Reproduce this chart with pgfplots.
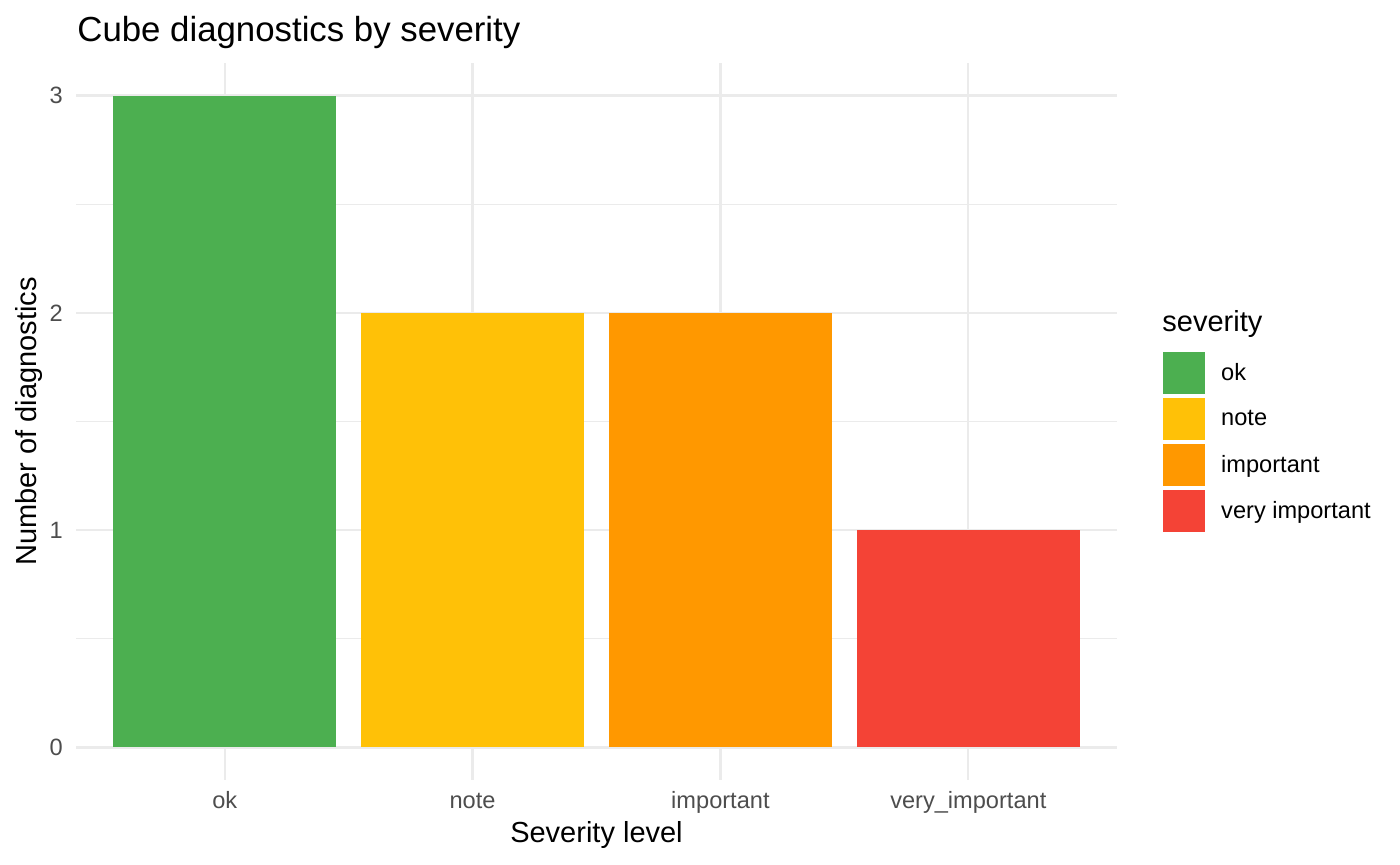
\documentclass[border=0pt]{standalone}
\usepackage{fontspec}
\setmainfont{Liberation Sans}
\usepackage{pgfplots}
\pgfplotsset{compat=1.18}
\definecolor{cok}{HTML}{4CAF50}
\definecolor{cnote}{HTML}{FFC107}
\definecolor{cimp}{HTML}{FF9800}
\definecolor{cvimp}{HTML}{F44336}
\definecolor{gridc}{HTML}{EBEBEB}
\definecolor{tickc}{HTML}{4D4D4D}
\begin{document}
\begin{tikzpicture}[x=1pt,y=1pt]
\path (0,0) rectangle (700,432.5);
\begin{axis}[
  at={(38pt,42.5pt)}, anchor=south west,
  scale only axis, width=520.5pt, height=358.5pt,
  xmin=-0.6, xmax=3.6, ymin=-0.15, ymax=3.15,
  axis line style={draw=none},
  xtick={0,1,2,3}, xticklabels={ok,note,important,very\_important},
  ytick={0,1,2,3}, minor ytick={0.5,1.5,2.5},
  major tick length=0pt, minor tick length=0pt,
  xmajorgrids, ymajorgrids, yminorgrids,
  major grid style={gridc, line width=1.1pt},
  minor grid style={gridc, line width=0.55pt},
  tick label style={font=\fontsize{11.8}{14}\selectfont, text=tickc},
  xticklabel style={anchor=base, yshift=-14.5pt},
  yticklabel style={anchor=east, xshift=-3.1pt},
  /pgf/number format/assume math mode=true,
  ybar, bar width=0.9, bar shift=0pt,
  legend style={at={(1.044,0.597)}, anchor=north west, draw=none, fill=none,
    inner sep=0pt, row sep=2pt, font=\fontsize{11.8}{14}\selectfont,
    nodes={inner sep=0pt, anchor=west},
    /tikz/every odd column/.append style={column sep=8pt}},
  legend cell align=left,
  legend image code/.code={\path[fill,draw=none] (0pt,-10.5pt) rectangle (21pt,10.5pt);},
]
\addplot[fill=cok, draw=none] coordinates {(0,3)};
\addlegendentry{ok}
\addplot[fill=cnote, draw=none] coordinates {(1,2)};
\addlegendentry{note}
\addplot[fill=cimp, draw=none] coordinates {(2,2)};
\addlegendentry{important}
\addplot[fill=cvimp, draw=none] coordinates {(3,1)};
\addlegendentry{very important}
\end{axis}
\node[anchor=base west, inner sep=0pt, font=\fontsize{17.4}{20}\selectfont] at (38.5,411.5) {Cube diagnostics by severity};
\node[anchor=base, inner sep=0pt, font=\fontsize{14.5}{17}\selectfont] at (298.25,11) {Severity level};
\node[anchor=base, rotate=90, inner sep=0pt, font=\fontsize{14.5}{17}\selectfont] at (18,221.75) {Number of diagnostics};
\node[anchor=base west, inner sep=0pt, font=\fontsize{14.5}{17}\selectfont] at (581,266.5) {severity};
\end{tikzpicture}
\end{document}
